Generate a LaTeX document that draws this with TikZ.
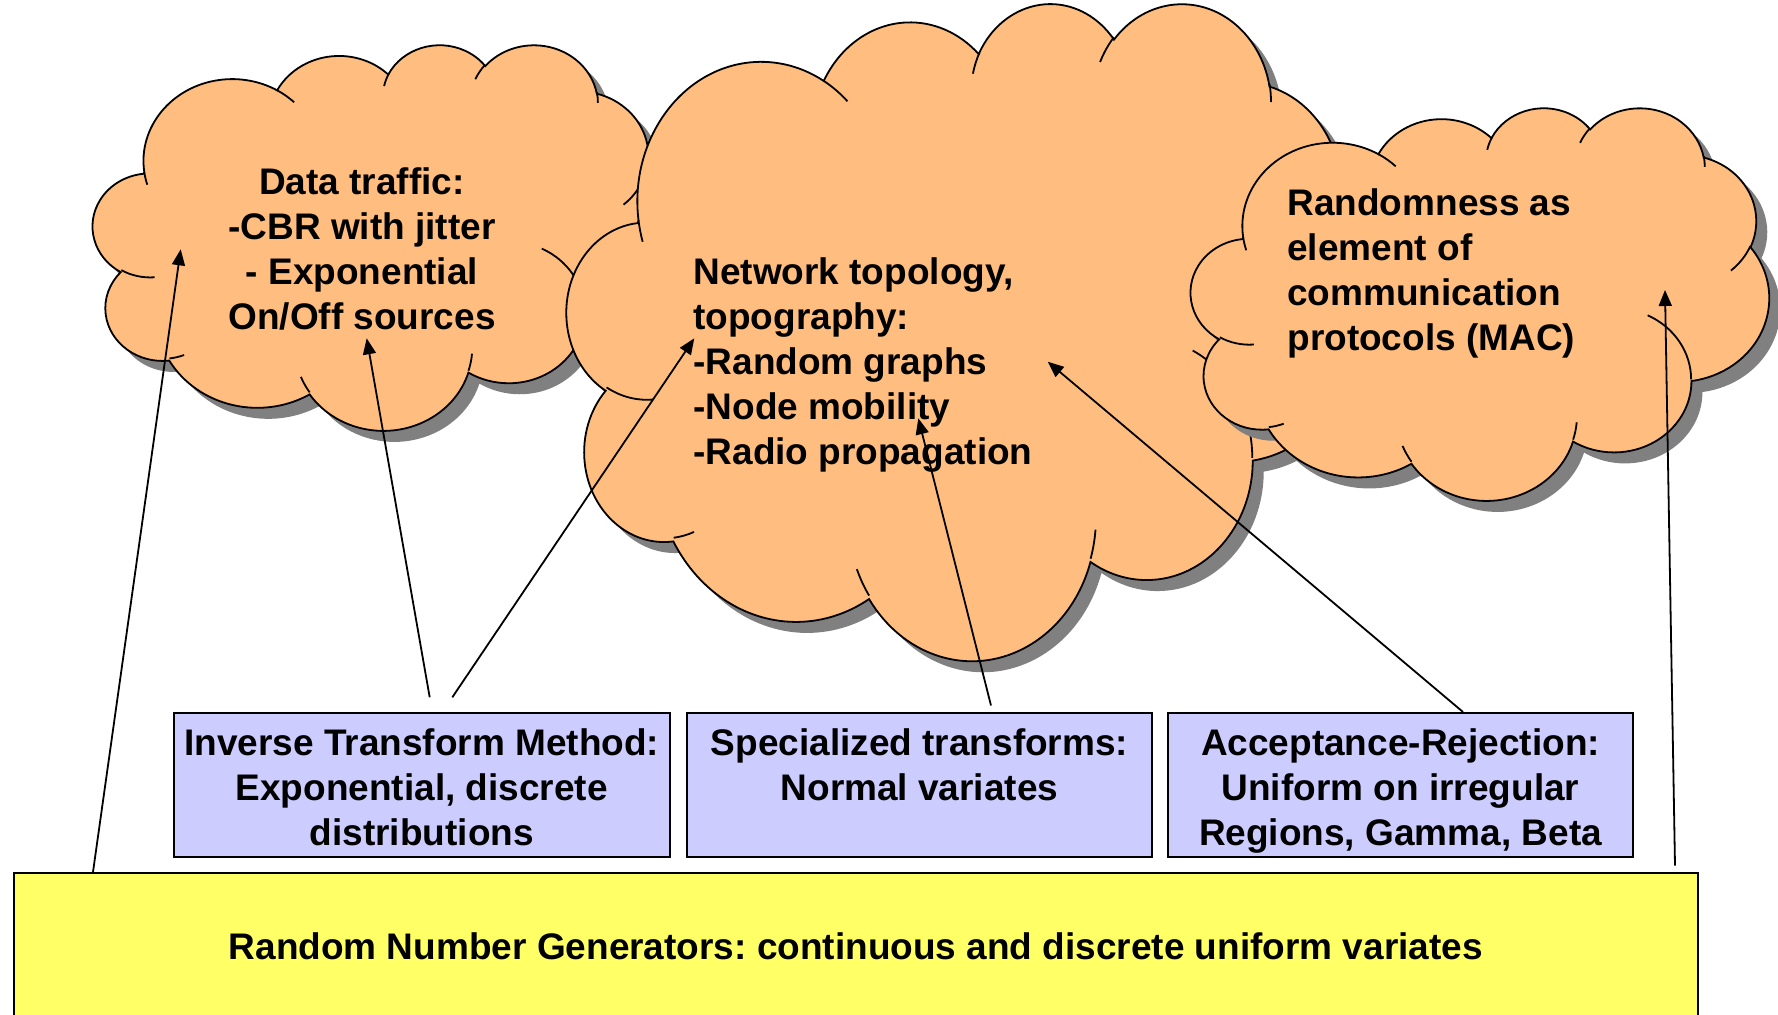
\documentclass[tikz,border=0pt]{standalone}
\usepackage{fontspec}
\setmainfont{Liberation Sans}
\usetikzlibrary{arrows.meta,calc}
\frenchspacing

\definecolor{cloudfill}{RGB}{255,190,128}
\definecolor{shadowgray}{RGB}{128,128,128}
\definecolor{methodfill}{RGB}{204,204,255}
\definecolor{basefill}{RGB}{255,255,102}

% Classic eleven-bump cloud, drawn in a 432 x 432 frame.
% Arcs are specified by geometric start angle and sweep on an ellipse;
% TikZ arcs take parametric angles, so they are converted once here.
\newcommand\cldang[5]{% #1 id, #2 start, #3 sweep, #4 x radius, #5 y radius
  \pgfmathsetmacro\cldtmp{atan2(sin(#2)/(#5),cos(#2)/(#4))-(#2)}%
  \pgfmathsetmacro\cldtmp{(#2)+\cldtmp-360*round(\cldtmp/360)}%
  \expandafter\xdef\csname cldS#1\endcsname{\cldtmp}%
  \pgfmathsetmacro\cldtmp{atan2(sin(#2+#3)/(#5),cos(#2+#3)/(#4))-(#2+#3)}%
  \pgfmathsetmacro\cldtmp{(#2+#3)+\cldtmp-360*round(\cldtmp/360)}%
  \expandafter\xdef\csname cldE#1\endcsname{\cldtmp}%
}
% outline
\cldang{A}{-190.48748}{123.78053}{67.53}{91.90}
\cldang{B}{-144.10238}{89.94523}{53.33}{72.67}
\cldang{C}{-145.80792}{99.72302}{43.65}{59.45}
\cldang{D}{-130.98607}{117.24173}{48.57}{65.95}
\cldang{E}{-78.70888}{109.02692}{53.33}{72.73}
\cldang{F}{-46.26725}{130.26900}{67.75}{92.20}
\cldang{G}{0.62502}{114.03333}{57.85}{78.67}
\cldang{H}{22.45160}{115.17255}{67.52}{92.15}
\cldang{I}{66.24263}{75.71102}{77.20}{105.43}
\cldang{J}{-274.94208}{146.73557}{43.60}{59.18}
\cldang{K}{-246.82850}{152.51885}{43.45}{59.45}
% inner creases
\cldang{a}{86.74200}{26.42950}{43.45}{59.45}
\cldang{b}{73.61047}{11.44747}{43.60}{59.18}
\cldang{c}{137.62415}{14.08110}{67.52}{92.15}
\cldang{d}{6.45327}{15.99835}{67.52}{92.15}
\cldang{e}{-70.29235}{70.91737}{57.85}{78.67}
\cldang{f}{30.31803}{27.75150}{53.33}{72.73}
\cldang{g}{-13.74433}{14.85890}{48.57}{65.95}
\cldang{h}{-149.18145}{18.19537}{48.57}{65.95}
\cldang{i}{-163.49427}{17.68635}{43.65}{59.45}
\cldang{j}{-66.70695}{12.31935}{67.53}{91.90}
\cldang{k}{157.65435}{11.85817}{67.53}{91.90}

\newcommand\cloudoutline{(39.00,143.70)
  arc[start angle=\cldSA,end angle=\cldEA,x radius=67.53,y radius=91.90]
  arc[start angle=\cldSB,end angle=\cldEB,x radius=53.33,y radius=72.67]
  arc[start angle=\cldSC,end angle=\cldEC,x radius=43.65,y radius=59.45]
  arc[start angle=\cldSD,end angle=\cldED,x radius=48.57,y radius=65.95]
  arc[start angle=\cldSE,end angle=\cldEE,x radius=53.33,y radius=72.73]
  arc[start angle=\cldSF,end angle=\cldEF,x radius=67.75,y radius=92.20]
  arc[start angle=\cldSG,end angle=\cldEG,x radius=57.85,y radius=78.67]
  arc[start angle=\cldSH,end angle=\cldEH,x radius=67.52,y radius=92.15]
  arc[start angle=\cldSI,end angle=\cldEI,x radius=77.20,y radius=105.43]
  arc[start angle=\cldSJ,end angle=\cldEJ,x radius=43.60,y radius=59.18]
  arc[start angle=\cldSK,end angle=\cldEK,x radius=43.45,y radius=59.45]
  -- cycle}

\newcommand\cloudcreases{%
  (46.93,261.77) arc[start angle=\cldSa,end angle=\cldEa,x radius=43.45,y radius=59.45]
  (69.28,348.99) arc[start angle=\cldSb,end angle=\cldEb,x radius=43.60,y radius=59.18]
  (164.78,390.90) arc[start angle=\cldSc,end angle=\cldEc,x radius=67.52,y radius=92.15]
  (288.27,347.51) arc[start angle=\cldSd,end angle=\cldEd,x radius=67.52,y radius=92.15]
  (341.29,229.54) arc[start angle=\cldSe,end angle=\cldEe,x radius=57.85,y radius=78.67]
  (417.98,153.54) arc[start angle=\cldSf,end angle=\cldEf,x radius=53.33,y radius=72.73]
  (383.24,54.26) arc[start angle=\cldSg,end angle=\cldEg,x radius=48.57,y radius=65.95]
  (290.78,39.52) arc[start angle=\cldSh,end angle=\cldEh,x radius=48.57,y radius=65.95]
  (221.41,47.20) arc[start angle=\cldSi,end angle=\cldEi,x radius=43.65,y radius=59.45]
  (140.00,51.92) arc[start angle=\cldSj,end angle=\cldEj,x radius=67.53,y radius=91.90]
  (41.27,157.89) arc[start angle=\cldSk,end angle=\cldEk,x radius=67.53,y radius=91.90]}

% #1 left, #2 top, #3 width, #4 height of the cloud frame
\newcommand\drawcloud[4]{%
  \begin{scope}[shift={(#1+11,#2+11)},xscale=#3/432,yscale=#4/432]
    \fill[cloudshadow] \cloudoutline;
  \end{scope}
  \begin{scope}[shift={(#1,#2)},xscale=#3/432,yscale=#4/432]
    \path[cloudbody] \cloudoutline;
    \draw[crease] \cloudcreases;
  \end{scope}}

\begin{document}
\begin{tikzpicture}[x=0.5pt,y=-0.5pt,
  cloudbody/.style={fill=cloudfill,draw=black,line width=0.9pt},
  cloudshadow/.style={fill=shadowgray},
  crease/.style={line width=0.9pt},
  txt/.style={font=\fontsize{18.5pt}{22.5pt}\selectfont\bfseries,inner sep=0pt,text=black},
  methodbox/.style={draw=black,line width=1pt,fill=methodfill,minimum height=72pt,inner sep=0pt},
  basebox/.style={draw=black,line width=1pt,fill=basefill,minimum width=842.2pt,minimum height=74pt,inner sep=0pt},
  arr/.style={-{Triangle[length=8pt,width=6.5pt]},line width=0.9pt}]

\useasboundingbox (0,0) rectangle (1778,1015);
\clip (0,0) rectangle (1778,1015);

% clouds, back to front
\drawcloud{93}{44}{568}{385}
\drawcloud{567}{2}{792}{656}
\drawcloud{1191}{107}{578}{392}

% cloud texts
\node[txt,align=center,anchor=north] (traffic) at (362,167)
  {Data traffic:\\-CBR with jitter\\- Exponential\\On/Off sources};
\node[txt,align=left,anchor=north west] (topo) at (693,257)
  {Network topology,\\topography:\\-Random graphs\\-Node mobility\\-Radio propagation};
\node[txt,align=left,anchor=north west] (proto) at (1287,188)
  {Randomness as\\element of\\communication\\protocols (MAC)};

% method boxes
\node[methodbox,minimum width=248.25pt] (itm) at (421.75,785) {};
\node[methodbox,minimum width=232.5pt] (spec) at (919.5,785) {};
\node[methodbox,minimum width=232.5pt] (accrej) at (1400.5,785) {};
\node[txt,align=center,anchor=north] (itmtext) at ($(itm.north)+(0,16)$)
  {Inverse Transform Method:\\Exponential, discrete\\distributions};
\node[txt,align=center,anchor=north] (spectext) at ($(spec.north)+(0,16)$)
  {Specialized transforms:\\Normal variates};
\node[txt,align=center,anchor=north] (accrejtext) at ($(accrej.north)+(0,16)$)
  {Acceptance-Rejection:\\Uniform on irregular\\Regions, Gamma, Beta};

% generator base
\node[basebox] (rng) at (855.8,947) {};
\node[txt,anchor=base] (rngtext) at ($(rng.north)+(0,87)$)
  {Random Number Generators: continuous and discrete uniform variates};

% arrow targets inside the clouds
\coordinate (tTraffic) at (180.7,249.3);
\coordinate (tOnOff) at (366.7,338.3);
\coordinate (tGraphs) at (694.3,338.3);
\coordinate (tMobility) at (918.3,418.3);
\coordinate (tTopo) at (1047.7,361.7);
\coordinate (tProto) at (1665,290);

\draw[arr] ($(rng.north west)+(80.4,0)$) -- (tTraffic);
\draw[arr] ($(itm.north west)+(257.2,-14.7)$) -- (tOnOff);
\draw[arr] ($(itm.north west)+(279.8,-14.7)$) -- (tGraphs);
\draw[arr] ($(spec.north west)+(305,-6.5)$) -- (tMobility);
\draw[arr] ($(accrej.north west)+(296,0)$) -- (tTopo);
\draw[arr] ($(rng.north east)+(-24,-6.3)$) -- (tProto);
\end{tikzpicture}
\end{document}
